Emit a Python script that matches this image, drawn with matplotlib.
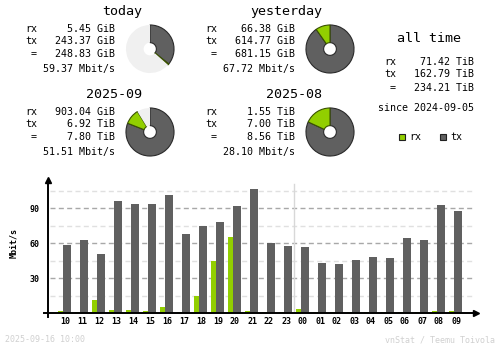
import matplotlib
matplotlib.use("Agg")
import matplotlib.pyplot as plt

# summary values (GiB for daily, TiB for monthly)
day_names = ["today", "yesterday"]
day_rx = [5.45, 66.38]
day_tx = [243.37, 614.77]
day_rx_txt = ["5.45 GiB", "66.38 GiB"]
day_tx_txt = ["243.37 GiB", "614.77 GiB"]
day_tot_txt = ["248.83 GiB", "681.15 GiB"]
day_rate_txt = ["59.37 Mbit/s", "67.72 Mbit/s"]

month_names = ["2025-09", "2025-08"]
month_rx = [903.04 / 1024, 1.55]
month_tx = [6.92, 7.00]
month_rx_txt = ["903.04 GiB", "1.55 TiB"]
month_tx_txt = ["6.92 TiB", "7.00 TiB"]
month_tot_txt = ["7.80 TiB", "8.56 TiB"]
month_rate_txt = ["51.51 Mbit/s", "28.10 Mbit/s"]

alltime_txt = ["71.42 TiB", "162.79 TiB", "234.21 TiB"]
since_txt = "since 2024-09-05"

# hourly rates, Mbit/s
hours = ["10", "11", "12", "13", "14", "15", "16", "17", "18", "19", "20", "21",
         "22", "23", "00", "01", "02", "03", "04", "05", "06", "07", "08", "09"]
rx_rate = [2.0, 1.1, 11.4, 2.8, 2.8, 2.0, 5.4, 1.0, 14.8, 44.8, 65.4, 2.0,
           1.0, 1.0, 3.7, 1.0, 1.0, 1.0, 1.0, 1.0, 1.0, 1.0, 2.0, 2.0]
tx_rate = [58.5, 62.8, 50.8, 96.3, 93.7, 93.7, 101.4, 68.0, 74.8, 78.2, 92.0, 106.6,
           60.3, 57.7, 56.8, 43.1, 42.3, 45.7, 48.3, 47.4, 64.5, 62.8, 92.8, 87.7]

RX = "#92CF00"
TX = "#606060"
EMPTY = "#F0F0F0"
EDGE = "#2a2a2a"
MONO = "DejaVu Sans Mono"
plt.rcParams["lines.scale_dashes"] = False

W, H = 500, 348
fig = plt.figure(figsize=(W / 100, H / 100), dpi=100)

# overlay in pixel coordinates for the text blocks
ov = fig.add_axes([0, 0, 1, 1])
ov.set_xlim(0, W)
ov.set_ylim(H, 0)
ov.axis("off")


def txt(x, y, s, size=7.2, ha="left", **kw):
    ov.text(x, y, s, fontsize=size, ha=ha, va="center", family=MONO, **kw)


def block(dx, top, title, rx, tx, tot, rate):
    txt(142 + dx, top, title, size=9.6, ha="right")
    y = top + 17.5
    txt(25 + dx, y, "rx")
    txt(115 + dx, y, rx, ha="right")
    txt(25 + dx, y + 11.7, "tx")
    txt(115 + dx, y + 11.7, tx, ha="right")
    txt(34 + dx, y + 25, "=", ha="center")
    txt(115 + dx, y + 25, tot, ha="right")
    txt(115 + dx, y + 39.7, rate, ha="right")


def pie(cx, cy, tx, rx, top):
    r = 24.5
    ax = fig.add_axes([(cx - r) / W, (H - cy - r) / H, 2 * r / W, 2 * r / H])
    vals = [tx, rx, max(top - tx - rx, 0)]
    wedges, _ = ax.pie(vals, colors=[TX, RX, EMPTY], startangle=90,
                       counterclock=False, normalize=True,
                       wedgeprops=dict(width=0.735, linewidth=0.8))
    wedges[0].set_edgecolor(EDGE)
    wedges[1].set_edgecolor("#3a5200")
    wedges[2].set_edgecolor("none")
    ax.set_xlim(-1.02, 1.02)
    ax.set_ylim(-1.02, 1.02)


day_max = max(r + t for r, t in zip(day_rx, day_tx))
month_max = max(r + t for r, t in zip(month_rx, month_tx))
for i in range(2):
    dx = 180 * i
    block(dx, 11.7, day_names[i], day_rx_txt[i], day_tx_txt[i],
          day_tot_txt[i], day_rate_txt[i])
    pie(150 + dx, 49, day_tx[i], day_rx[i], day_max)
    block(dx, 94.5, month_names[i], month_rx_txt[i], month_tx_txt[i],
          month_tot_txt[i], month_rate_txt[i])
    pie(150 + dx, 132, month_tx[i], month_rx[i], month_max)

# all time block
txt(429, 39, "all time", size=9.6, ha="center")
for j, (lab, val) in enumerate(zip(["rx", "tx", "="], alltime_txt)):
    yy = [62, 74, 88][j]
    if lab == "=":
        txt(393, yy, lab, ha="center")
    else:
        txt(384, yy, lab)
    txt(474, yy, val, ha="right")
txt(474, 108, since_txt, ha="right")

# legend
ov.add_patch(plt.Rectangle((398.5, 133.5), 6, 6, facecolor=RX, edgecolor="#202020", lw=0.8))
txt(409, 136.5, "rx")
ov.add_patch(plt.Rectangle((440, 133.5), 6, 6, facecolor=TX, edgecolor="#202020", lw=0.8))
txt(450, 136.5, "tx")

# footer
txt(5, 340, "2025-09-16 10:00", size=6, color="#d0d0d0")
txt(495, 340, "vnStat / Teemu Toivola", size=6, ha="right", color="#d0d0d0")

# hourly bar chart
base, topy = 313.3, 180
ax = fig.add_axes([48 / W, (H - base) / H, 425 / W, (base - topy) / H])
ymax = (base - topy) / 35 * 30
ax.set_xlim(-1, 24)
ax.set_ylim(0, ymax)
ax.patch.set_alpha(0)
for s in ax.spines.values():
    s.set_visible(False)

x = list(range(len(hours)))
for v in [15, 45, 75, 105]:
    ax.plot([-0.88, 24], [v, v], color="#e0e0e0", lw=1, ls=(0, (3.6, 2.4)), zorder=0)
for v in [30, 60, 90]:
    ax.plot([-0.88, 24], [v, v], color="#a8a8a8", lw=1, ls=(0, (3.6, 2.4)), zorder=0)
ax.plot([13.49, 13.49], [0, (base - 184) / 35 * 30], color="#d8d8d8", lw=1, zorder=0)

ax.bar([i - 0.265 for i in x], rx_rate, width=0.3, color=RX, lw=0, zorder=2)
ax.bar([i + 0.118 for i in x], tx_rate, width=0.47, color=TX, lw=0, zorder=2)

# axes with arrows
ax.plot([-1.24, 24.2], [0, 0], color="black", lw=1.4, clip_on=False, zorder=3)
ax.plot([24.2], [0], marker=">", color="black", ms=5, clip_on=False, zorder=3)
ax.plot([-1, -1], [-3, ymax], color="black", lw=1.4, clip_on=False, zorder=3)
ax.plot([-1], [ymax], marker="^", color="black", ms=5, clip_on=False, zorder=3)

ax.set_xticks(x)
ax.set_xticklabels(hours, family=MONO, fontsize=6, fontweight="bold")
ax.set_yticks([30, 60, 90])
ax.set_yticklabels(["30", "60", "90"], family=MONO, fontsize=6, fontweight="bold")
ax.tick_params(length=0, pad=3)
ax.tick_params(axis="y", pad=6)
fig.text(14 / W, 1 - 243 / H, "Mbit/s", rotation=90, ha="center", va="center",
         family=MONO, fontsize=6, fontweight="bold")

fig.savefig("out.png", dpi=100)
